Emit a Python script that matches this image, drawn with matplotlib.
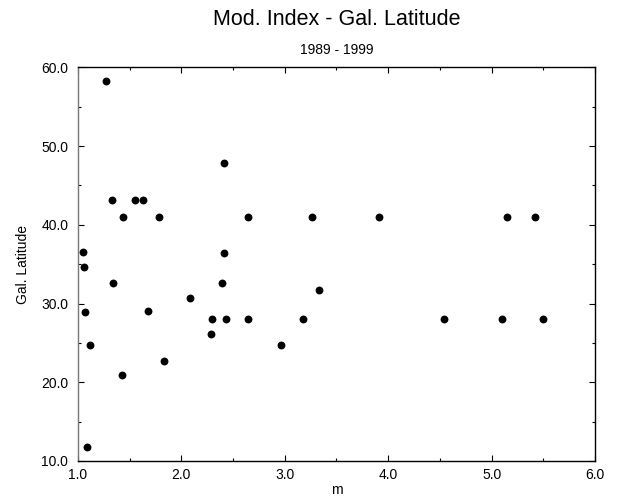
import matplotlib

matplotlib.use("Agg")
import matplotlib.pyplot as plt
from matplotlib.ticker import MultipleLocator, FormatStrFormatter

plt.rcParams["font.family"] = ["Liberation Sans", "DejaVu Sans"]

# modulation index (m) vs galactic latitude
mod_index = [1.268, 1.326, 1.548, 1.632, 1.438, 1.787, 2.415, 2.647, 3.26,
             3.911, 5.152, 5.42, 1.045, 2.415, 1.058, 1.342, 2.39, 2.086,
             1.064, 1.68, 3.331, 2.30, 2.428, 2.647, 3.179, 4.54, 5.10,
             5.494, 2.286, 1.116, 2.96, 1.829, 1.426, 1.09]
gal_lat = [58.3, 43.1, 43.1, 43.1, 41.0, 41.0, 47.9, 41.0, 41.0,
           41.0, 41.0, 41.0, 36.6, 36.4, 34.7, 32.6, 32.6, 30.7,
           28.9, 29.1, 31.7, 28.0, 28.0, 28.0, 28.0, 28.0, 28.0,
           28.0, 26.1, 24.7, 24.7, 22.7, 20.9, 11.8]

fig = plt.figure(figsize=(6.23, 4.99), dpi=100)
ax = fig.add_axes([0.1252, 0.0762, 0.8298, 0.7888])

ax.scatter(mod_index, gal_lat, s=32, color="black", zorder=3, linewidths=0)

ax.set_xlim(1.0, 6.0)
ax.set_ylim(10.0, 60.0)
ax.xaxis.set_major_locator(MultipleLocator(1.0))
ax.xaxis.set_minor_locator(MultipleLocator(0.5))
ax.yaxis.set_major_locator(MultipleLocator(10.0))
ax.yaxis.set_minor_locator(MultipleLocator(5.0))
ax.xaxis.set_major_formatter(FormatStrFormatter("%.1f"))
ax.yaxis.set_major_formatter(FormatStrFormatter("%.1f"))

ax.tick_params(which="both", direction="in", top=True, right=True,
               width=0.8, labelsize=10)
ax.tick_params(which="major", length=4)
ax.tick_params(which="minor", length=2)
ax.tick_params(axis="y", pad=7)
ax.tick_params(axis="x", pad=5)

for s in ax.spines.values():
    s.set_linewidth(1.0)
ax.spines["left"].set_color("#777777")

ax.set_xlabel("m", fontsize=10, labelpad=1)
ax.set_ylabel("Gal. Latitude", fontsize=10, labelpad=8)

fig.text(0.540, 0.960, "Mod. Index - Gal. Latitude", ha="center",
         va="center", fontsize=15.5)
fig.text(0.540, 0.899, "1989 - 1999", ha="center", va="center",
         fontsize=10)

fig.savefig("out.png", dpi=100, facecolor="white")
